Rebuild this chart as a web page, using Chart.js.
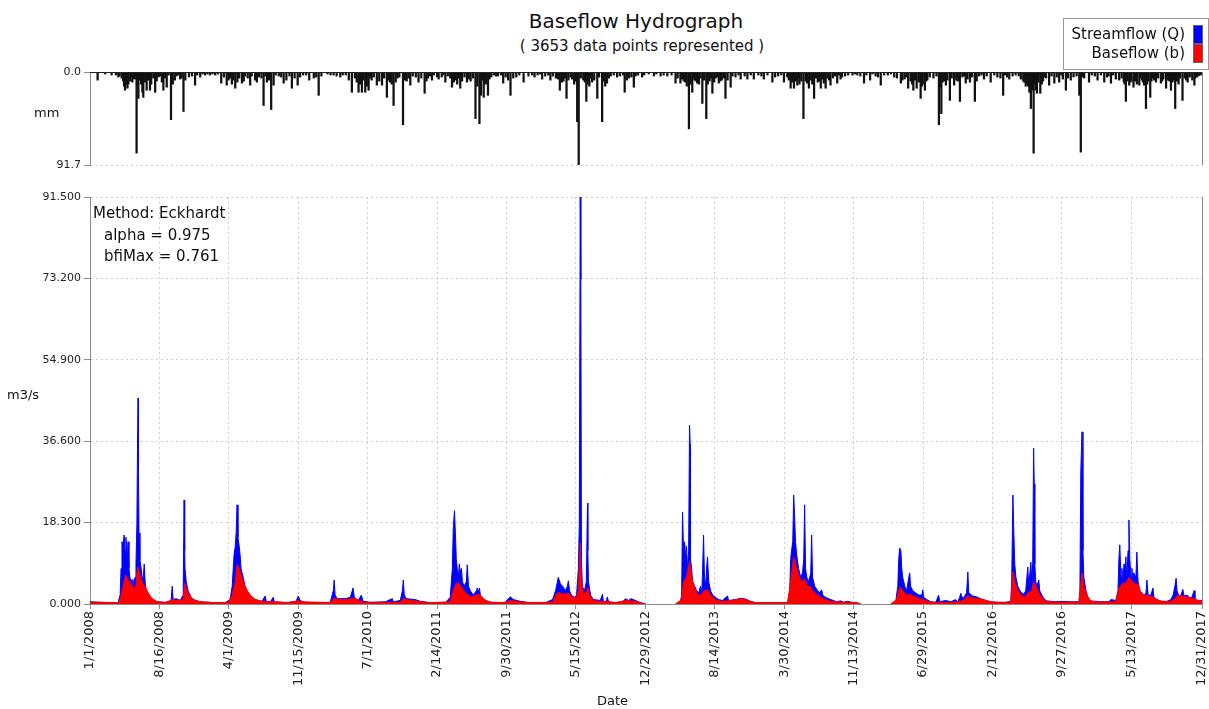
<!DOCTYPE html>
<html>
<head>
<meta charset="utf-8">
<title>Baseflow Hydrograph</title>
<script src="https://cdn.jsdelivr.net/npm/chart.js@4.4.1/dist/chart.umd.min.js"></script>
<style>
  body {
    margin: 0;
    width: 1209px;
    height: 709px;
    position: relative;
    overflow: hidden;
    background: #fff;
    color: #111;
    font-family: "DejaVu Sans", sans-serif;
  }
  .txt { position: absolute; white-space: nowrap; line-height: 1; }
  #title { left: 636px; top: 11px; font-size: 20px; transform: translateX(-50%); }
  #subtitle { left: 642px; top: 39px; font-size: 15px; transform: translateX(-50%); }
  #legend-box { position: absolute; left: 1063px; top: 18px; width: 144px; height: 50px; border: 1px solid #999; }
  .leg { right: 24px; font-size: 15px; }
  .swatch { position: absolute; left: 1193px; width: 8px; height: 17px; border: 1px solid #666; }
  .method { font-size: 15px; }
  .axis-title { font-size: 13px; }
  #rain-canvas { position: absolute; left: 0; top: 60px; }
  #flow-canvas { position: absolute; left: 0; top: 180px; }
</style>
</head>
<body>
<canvas id="rain-canvas" width="1209" height="115"></canvas>
<canvas id="flow-canvas" width="1209" height="529"></canvas>

<div class="txt" id="title">Baseflow Hydrograph</div>
<div class="txt" id="subtitle">( 3653 data points represented )</div>

<div id="legend-box"></div>
<div class="txt leg" style="top:27px">Streamflow (Q)</div>
<div class="txt leg" style="top:46px">Baseflow (b)</div>
<div class="swatch" style="top:25px;background:#0000ff"></div>
<div class="swatch" style="top:44px;background:#ff0000"></div>

<div class="txt method" style="left:93px;top:206px">Method: Eckhardt</div>
<div class="txt method" style="left:104px;top:228px">alpha = 0.975</div>
<div class="txt method" style="left:104px;top:249px">bfiMax = 0.761</div>

<div class="txt axis-title" style="left:34px;top:106px">mm</div>
<div class="txt axis-title" style="left:7px;top:388px">m3/s</div>
<div class="txt axis-title" style="left:597px;top:694px">Date</div>

<script>
// day 0 = 1/1/2008, day 3652 = 12/31/2017
const dateTickDays = [0, 228, 456, 684, 912, 1140, 1368, 1596, 1824, 2052, 2280, 2508, 2736, 2964, 3192, 3420, 3652];
const dateTickLabels = [
  "1/1/2008", "8/16/2008", "4/1/2009", "11/15/2009", "7/1/2010", "2/14/2011",
  "9/30/2011", "5/15/2012", "12/29/2012", "8/14/2013", "3/30/2014", "11/13/2014",
  "6/29/2015", "2/12/2016", "9/27/2016", "5/13/2017", "12/31/2017",
];
const flowTicks = [0, 18.3, 36.6, 54.9, 73.2, 91.5];
const rainTicks = [0, 91.7];

// [day, m3/s]
const streamflow = [
  [0,0.5],[33,0.4],[92,0.3],[99,2],[102,8],[105,14],[108,13],[112,15.5],[115,12],[118,15],
  [122,10],[125,14],[128,8],[131,6],[135,5],[138,5.5],[141,4],[145,5],[148,6],[151,9],
  [154,18],[156,35],[158,46.3],[159,30],[161,16],[164,10],[168,8],[171,6],[174,5],[178,9],
  [181,5],[184,3],[191,2.5],[197,1.5],[207,1],[220,0.5],[247,0.4],[266,0.6],[270,4],[273,1],
  [283,1.2],[296,0.8],[306,2],[309,23.4],[311,12],[312,8],[316,5],[322,3],[332,1.5],[345,0.8],
  [362,0.5],[411,0.3],[444,0.3],[460,1],[467,4],[473,11],[477,13],[480,16],[483,22.3],[486,15],
  [490,13],[493,11],[496,8],[503,6],[509,4],[516,3],[526,2],[542,1],[565,0.6],[575,1.8],
  [579,0.6],[592,0.5],[602,1.5],[605,0.5],[641,0.3],[677,0.6],[684,1.8],[690,0.8],[707,0.3],[789,0.4],
  [799,3],[802,5.4],[805,2],[812,1.2],[838,1.2],[855,1.5],[864,3.6],[868,1.5],[881,0.8],[891,2],
  [897,0.6],[920,0.4],[970,0.5],[993,1.2],[996,0.5],[1019,0.8],[1026,3],[1029,5.4],[1032,2],[1039,1.2],
  [1068,1],[1085,0.6],[1118,0.3],[1167,0.3],[1183,1.5],[1190,8],[1193,17],[1197,21],[1200,16],[1203,10],
  [1206,8],[1210,6],[1213,9],[1216,7],[1220,8],[1223,5],[1229,4],[1236,5],[1239,8.8],[1243,4],
  [1249,3],[1259,2],[1269,3],[1272,3.6],[1275,2.5],[1279,3.6],[1282,2],[1292,1.2],[1305,0.5],[1331,0.3],
  [1364,0.4],[1374,1.2],[1381,1.6],[1390,1],[1413,0.6],[1446,0.3],[1496,0.3],[1519,1],[1529,3],[1538,6],
  [1545,4.5],[1552,4],[1561,3],[1568,4],[1571,5.2],[1575,3],[1581,2],[1591,1.5],[1598,2],[1604,8],
  [1607,18],[1610,91.5],[1612,73],[1614,10],[1617,4],[1624,3],[1630,5],[1634,22.7],[1635,12],[1637,5],
  [1644,2],[1653,1],[1676,0.8],[1683,2.2],[1686,0.6],[1696,0.6],[1699,1.6],[1703,0.5],[1726,0.3],[1749,0.5],
  [1759,1.2],[1768,0.8],[1778,1.2],[1791,0.8],[1808,0.3],[1824,0],[1923,0],[1939,0.5],[1943,2],[1946,20.7],
  [1949,13],[1953,14],[1956,10],[1959,13],[1962,8],[1966,12],[1969,40.2],[1971,36],[1972,10],[1976,8],
  [1979,5],[1986,4],[1992,3],[1999,2.5],[2005,4],[2009,2],[2012,8],[2015,15.5],[2018,6],[2022,4],
  [2025,8],[2028,10.6],[2032,5],[2038,3],[2045,2],[2054,1.5],[2064,1],[2077,0.8],[2094,1.8],[2097,0.8],
  [2120,1],[2137,1.3],[2153,1.1],[2169,0.6],[2186,0.3],[2291,0.3],[2298,3],[2301,10],[2304,12],[2308,14],
  [2311,24.5],[2314,20],[2317,14],[2321,11],[2327,8],[2334,6],[2340,7],[2344,10],[2347,22.3],[2350,8],
  [2354,6],[2360,5],[2367,7],[2370,15.5],[2373,6],[2380,4],[2390,3],[2396,2.5],[2403,3.2],[2406,2],
  [2416,1.5],[2432,1],[2442,0.8],[2452,0.5],[2465,0.7],[2475,0.4],[2488,0.6],[2501,0.4],[2518,0.3],[2531,0],
  [2630,0],[2646,0.5],[2653,4],[2656,10],[2659,12.6],[2663,12],[2666,8],[2669,6],[2676,4],[2682,3],
  [2689,6],[2692,7],[2695,4],[2702,3],[2712,2.5],[2722,2],[2732,2],[2735,3.2],[2738,1.5],[2748,1],
  [2761,0.5],[2778,0.4],[2787,2],[2791,0.5],[2810,0.8],[2827,0.5],[2843,1],[2850,0.5],[2856,1.5],[2860,2.4],
  [2863,1.5],[2870,1.5],[2879,2.5],[2883,7.2],[2886,2.5],[2899,1.8],[2912,1.6],[2925,1.2],[2942,0.8],[2958,0.5],
  [2975,0.4],[3008,0.4],[3024,0.6],[3027,5],[3031,24.5],[3034,16],[3037,9],[3041,6],[3047,4],[3054,3],
  [3060,2.5],[3067,2.2],[3073,3],[3080,8.3],[3083,4],[3090,9.4],[3093,5],[3096,9],[3099,35],[3101,27],
  [3103,9],[3106,5],[3110,4],[3116,5.4],[3119,3],[3126,2],[3133,1.2],[3142,0.7],[3172,0.5],[3188,0.6],
  [3221,0.5],[3248,0.5],[3251,3],[3254,30],[3258,38.7],[3261,12],[3264,6],[3271,3],[3277,1.5],[3287,0.7],
  [3320,0.5],[3346,0.5],[3353,1],[3369,0.8],[3376,3],[3379,10],[3382,13.3],[3386,6],[3389,8],[3392,5],
  [3396,9],[3399,6],[3402,10.6],[3405,5],[3409,12],[3412,18.9],[3415,10],[3419,6],[3422,8],[3425,5],
  [3428,7],[3435,6],[3438,11.7],[3442,5],[3448,3],[3455,2.5],[3461,2],[3468,2.5],[3471,5.4],[3475,2],
  [3484,2],[3491,3.6],[3494,1.5],[3504,1],[3517,0.6],[3534,0.5],[3550,1],[3557,2],[3563,4],[3567,5.8],
  [3570,3],[3576,1.8],[3583,2],[3589,3.3],[3593,1.8],[3603,2],[3609,1.5],[3619,1.5],[3626,3],[3629,1],
  [3639,0.8],[3652,0.8],
];

// [day, m3/s]
const baseflow = [
  [0,0.4],[92,0.3],[99,1],[112,5],[118,6.5],[125,5.5],[135,4.5],[145,3.5],[151,4],[154,7],
  [158,8.3],[164,6.5],[174,4.5],[181,4],[191,2.5],[204,1.2],[220,0.5],[247,0.3],[270,1],[283,0.8],
  [306,1],[311,4.7],[316,3.5],[326,2],[339,1],[362,0.5],[411,0.3],[453,0.3],[467,2],[477,5],
  [483,8.8],[490,8],[496,6.5],[506,4.5],[516,3],[526,2],[542,1],[565,0.6],[579,0.5],[608,0.5],
  [658,0.3],[684,0.8],[697,0.5],[789,0.3],[802,1.3],[815,1],[838,1],[861,1.2],[871,1.3],[881,0.8],
  [897,0.4],[920,0.3],[1019,0.4],[1029,1.2],[1039,1],[1059,0.8],[1085,0.5],[1118,0.3],[1183,0.5],[1193,3],
  [1203,4.7],[1213,4.5],[1223,3.5],[1233,2.5],[1243,2],[1252,1.5],[1262,1.8],[1272,2.2],[1282,2],[1295,1],
  [1315,0.4],[1364,0.3],[1381,0.8],[1397,0.6],[1430,0.3],[1519,0.4],[1529,2],[1538,2.6],[1552,2.3],[1561,2.2],
  [1571,2.5],[1584,1.5],[1598,1.5],[1604,3],[1607,8],[1610,13.7],[1614,5],[1620,2.5],[1630,2.5],[1634,3.8],
  [1640,2],[1653,0.8],[1676,0.5],[1693,0.6],[1726,0.3],[1759,0.8],[1781,0.7],[1808,0.3],[1824,0],[1923,0],
  [1943,1],[1949,5],[1959,6],[1969,9.5],[1976,6],[1986,3.5],[1996,2.2],[2005,2],[2018,3],[2028,3.2],
  [2038,2],[2054,1],[2071,0.6],[2114,0.8],[2130,1.1],[2143,1.2],[2160,0.8],[2176,0.4],[2192,0.3],[2291,0.3],
  [2301,5],[2311,10.6],[2317,9],[2327,6.5],[2337,5],[2347,5.5],[2357,4],[2367,3.8],[2373,3],[2386,2.2],
  [2399,1.5],[2416,1],[2432,0.6],[2465,0.4],[2518,0.3],[2531,0],[2630,0],[2649,1],[2659,3.8],[2669,3],
  [2682,2],[2692,2.2],[2705,1.8],[2722,1.2],[2735,1],[2755,0.5],[2778,0.3],[2827,0.3],[2860,0.6],[2876,1.2],
  [2883,2],[2889,1.4],[2909,1.3],[2932,1],[2958,0.5],[2991,0.3],[3024,0.4],[3031,7.2],[3037,5],[3047,3],
  [3057,2],[3070,1.5],[3080,2.5],[3093,3],[3099,5],[3106,4],[3116,2.5],[3126,1.5],[3139,0.6],[3172,0.4],
  [3248,0.4],[3258,7],[3264,4],[3274,2],[3287,0.6],[3320,0.4],[3369,0.5],[3379,3.5],[3389,4.5],[3402,4.7],
  [3412,6],[3422,5],[3432,4.5],[3442,4.5],[3451,2.5],[3465,2],[3478,1.8],[3491,1.6],[3504,0.9],[3524,0.6],
  [3550,0.6],[3563,1.2],[3573,2],[3586,1.8],[3603,1.5],[3622,1.3],[3639,0.8],[3652,0.6],
];

// [day, mm]
const rainfall = [
  [25,8],[50,2],[71,3],[85,3],[93,5],[97,4],[104,6],[109,9],[112,14],[115,18],
  [120,12],[123,16],[126,12],[132,9],[136,5],[139,10],[142,7],[145,4],[148,7],[153,80],
  [156,12],[159,26],[162,8],[165,6],[168,12],[172,20],[175,25],[180,10],[186,18],[190,8],
  [197,18],[201,12],[208,6],[214,20],[219,9],[225,5],[230,4],[236,10],[241,18],[246,6],
  [252,15],[258,3],[266,47],[272,12],[279,8],[284,4],[290,3],[296,7],[301,6],[307,39],
  [313,8],[325,5],[335,4],[345,13],[352,3],[362,5],[370,2],[378,3],[386,2],[394,3],
  [402,2],[411,3],[420,2],[431,11],[440,5],[449,13],[455,8],[460,6],[466,12],[470,8],
  [477,16],[484,10],[490,6],[499,11],[505,9],[510,4],[518,6],[526,13],[531,4],[542,8],
  [548,10],[555,5],[563,6],[570,33],[576,4],[581,10],[588,8],[595,37],[603,13],[610,3],
  [620,4],[628,5],[636,11],[645,8],[655,4],[663,16],[672,6],[682,13],[690,5],[700,3],
  [710,3],[720,8],[735,6],[743,5],[751,23],[760,4],[780,2],[790,3],[800,3],[810,4],
  [822,5],[830,3],[840,3],[850,8],[860,20],[870,6],[876,10],[882,20],[887,12],[893,20],
  [898,8],[904,20],[909,14],[915,18],[920,6],[925,8],[932,5],[942,13],[950,9],[959,13],
  [966,6],[975,25],[980,8],[985,10],[991,12],[997,33],[1004,10],[1010,6],[1016,5],[1028,52],
  [1034,8],[1040,9],[1046,6],[1052,13],[1060,4],[1070,5],[1079,10],[1088,6],[1099,21],[1105,9],
  [1110,6],[1116,4],[1123,8],[1130,3],[1140,5],[1145,7],[1155,5],[1160,3],[1167,10],[1175,4],
  [1183,6],[1189,15],[1195,10],[1200,8],[1206,12],[1211,6],[1216,16],[1222,9],[1230,5],[1238,10],
  [1244,7],[1250,9],[1258,6],[1266,46],[1272,14],[1279,51],[1284,23],[1289,8],[1293,25],[1296,11],
  [1300,12],[1307,23],[1312,7],[1318,5],[1326,3],[1333,4],[1340,4],[1350,3],[1357,11],[1365,5],
  [1373,8],[1381,23],[1390,6],[1400,5],[1410,3],[1424,10],[1440,4],[1452,3],[1460,5],[1470,3],
  [1478,2],[1485,7],[1495,4],[1505,3],[1512,8],[1520,4],[1530,6],[1537,7],[1543,18],[1550,10],
  [1555,9],[1560,6],[1565,26],[1571,8],[1578,5],[1583,7],[1590,12],[1595,9],[1600,49],[1605,91.7],
  [1612,6],[1620,8],[1625,10],[1630,29],[1636,12],[1640,14],[1645,6],[1649,10],[1656,8],[1666,26],
  [1672,5],[1682,49],[1688,9],[1692,14],[1698,11],[1704,6],[1710,4],[1720,3],[1731,5],[1740,4],
  [1750,3],[1756,20],[1763,8],[1770,6],[1778,5],[1786,15],[1792,4],[1800,3],[1813,5],[1820,3],
  [1835,2],[1852,4],[1860,2],[1874,4],[1884,3],[1896,4],[1910,3],[1923,11],[1930,6],[1939,11],
  [1944,7],[1950,9],[1955,10],[1960,14],[1967,56],[1972,12],[1978,20],[1982,6],[1985,8],[1990,9],
  [1994,11],[2000,12],[2004,6],[2011,31],[2017,8],[2024,46],[2029,12],[2035,9],[2040,6],[2044,21],
  [2050,10],[2055,6],[2060,5],[2065,11],[2070,9],[2075,8],[2082,6],[2087,26],[2094,8],[2104,15],
  [2110,4],[2120,5],[2130,3],[2137,7],[2150,4],[2159,7],[2170,3],[2180,7],[2195,3],[2205,4],
  [2213,7],[2225,3],[2241,10],[2250,5],[2260,4],[2270,3],[2279,10],[2290,5],[2295,8],[2301,16],
  [2306,10],[2312,16],[2318,9],[2323,13],[2326,6],[2330,12],[2336,9],[2343,46],[2350,9],[2355,11],
  [2361,16],[2367,8],[2372,12],[2378,26],[2384,6],[2390,10],[2395,9],[2400,16],[2405,7],[2410,11],
  [2416,16],[2422,6],[2427,8],[2432,13],[2440,6],[2447,4],[2454,11],[2460,3],[2465,7],[2470,5],
  [2480,4],[2490,3],[2504,3],[2512,2],[2520,3],[2530,4],[2542,11],[2550,3],[2562,8],[2570,2],
  [2580,4],[2588,5],[2597,13],[2608,3],[2620,3],[2630,2],[2641,5],[2650,6],[2663,11],[2668,8],
  [2675,7],[2680,5],[2687,16],[2695,9],[2700,12],[2704,18],[2710,8],[2715,16],[2722,10],[2728,26],
  [2732,14],[2735,12],[2742,18],[2746,9],[2750,8],[2758,5],[2770,6],[2780,4],[2788,52],[2792,15],
  [2796,41],[2800,10],[2805,9],[2811,13],[2816,8],[2824,28],[2830,6],[2838,13],[2845,8],[2850,9],
  [2857,29],[2865,5],[2870,4],[2876,11],[2882,7],[2890,10],[2897,5],[2906,29],[2912,9],[2920,4],
  [2928,3],[2936,7],[2945,4],[2958,10],[2970,3],[2980,5],[2990,6],[2999,23],[3005,3],[3012,5],
  [3019,7],[3030,4],[3040,3],[3050,4],[3057,7],[3065,9],[3068,10],[3073,14],[3077,12],[3081,14],
  [3085,20],[3088,16],[3090,36],[3095,18],[3099,80],[3103,12],[3106,18],[3110,21],[3115,10],[3121,21],
  [3126,12],[3130,9],[3135,5],[3140,6],[3150,13],[3158,4],[3167,11],[3175,5],[3183,10],[3190,3],
  [3195,7],[3205,18],[3212,6],[3221,8],[3230,5],[3240,4],[3249,23],[3254,79],[3260,5],[3265,6],
  [3281,10],[3290,3],[3300,4],[3309,8],[3320,3],[3331,10],[3340,5],[3345,4],[3353,11],[3360,3],
  [3369,7],[3380,8],[3388,6],[3395,10],[3398,12],[3402,29],[3407,9],[3413,13],[3417,10],[3420,9],
  [3427,15],[3432,9],[3438,12],[3446,13],[3450,6],[3455,8],[3458,10],[3462,13],[3468,36],[3472,12],
  [3475,9],[3482,25],[3486,9],[3490,6],[3495,8],[3501,10],[3508,6],[3517,11],[3521,9],[3525,7],
  [3534,16],[3540,8],[3545,9],[3550,18],[3555,10],[3560,8],[3564,36],[3570,9],[3575,12],[3580,6],
  [3588,28],[3595,6],[3600,8],[3605,10],[3612,5],[3620,8],[3627,13],[3630,6],[3635,5],[3640,4],
  [3643,3],[3648,3],
];

Chart.defaults.font.family = '"DejaVu Sans", sans-serif';
Chart.defaults.color = "#222";
Chart.defaults.animation = false;

const GRID = "#cfcfcf";
const AXIS = "#8a8a8a";

const toPoints = (pairs) => pairs.map(([x, y]) => ({ x, y }));

// keep label overflow from shrinking the plot area
const noOverflow = (s) => {
  s.paddingLeft = 0;
  s.paddingRight = 0;
  s.paddingTop = 0;
  s.paddingBottom = 0;
};

// solid right edge of each panel, plus the dark zero line of the rain panel
const panelEdges = {
  id: "panelEdges",
  afterDraw(chart, args, opts) {
    const { ctx, chartArea: a } = chart;
    ctx.save();
    ctx.lineWidth = 1;
    ctx.strokeStyle = AXIS;
    ctx.beginPath();
    ctx.moveTo(Math.round(a.right) + 0.5, a.top);
    ctx.lineTo(Math.round(a.right) + 0.5, a.bottom);
    ctx.stroke();
    if (opts.topLine) {
      ctx.strokeStyle = opts.topLine;
      ctx.beginPath();
      ctx.moveTo(a.left, Math.round(a.top) + 0.5);
      ctx.lineTo(a.right, Math.round(a.top) + 0.5);
      ctx.stroke();
    }
    ctx.restore();
  },
};

// no-flow stretches show the plain axis instead of a coloured line
const hideFlat = (c) => (c.p0.parsed.y === 0 && c.p1.parsed.y === 0 ? "rgba(0,0,0,0)" : undefined);

new Chart(document.getElementById("rain-canvas"), {
  type: "bar",
  data: {
    datasets: [
      {
        label: "Precipitation",
        data: toPoints(rainfall),
        backgroundColor: "#111",
        barThickness: 1.6,
      },
    ],
  },
  options: {
    responsive: false,
    layout: { padding: { top: 12, right: 7, bottom: 10, left: 0 } },
    plugins: { legend: { display: false }, tooltip: { enabled: false }, panelEdges: { topLine: "#222" } },
    scales: {
      x: { type: "linear", min: 0, max: 3652, offset: false, display: false },
      y: {
        min: 0,
        max: 91.7,
        reverse: true,
        afterBuildTicks: (s) => { s.ticks = rainTicks.map((value) => ({ value })); },
        afterFit: (s) => { s.width = 90; noOverflow(s); },
        ticks: { font: { size: 11 }, padding: 3, callback: (v) => Number(v).toFixed(1) },
        grid: {
          color: (c) => (c.tick && c.tick.value === 0 ? "rgba(0,0,0,0)" : GRID),
          tickColor: AXIS,
          tickLength: 6,
        },
        border: { color: AXIS, dash: [2, 3] },
      },
    },
  },
  plugins: [panelEdges],
});

new Chart(document.getElementById("flow-canvas"), {
  type: "line",
  data: {
    datasets: [
      {
        label: "Baseflow (b)",
        data: toPoints(baseflow),
        borderColor: "#ff0000",
        backgroundColor: "#ff0000",
        borderWidth: 1,
        borderJoinStyle: "bevel",
        pointRadius: 0,
        fill: "origin",
        order: 1,
        segment: { borderColor: hideFlat },
      },
      {
        label: "Streamflow (Q)",
        data: toPoints(streamflow),
        borderColor: "#0000ff",
        backgroundColor: "#0000ff",
        borderWidth: 1,
        borderJoinStyle: "bevel",
        pointRadius: 0,
        fill: "origin",
        order: 2,
        segment: { borderColor: hideFlat },
      },
    ],
  },
  options: {
    responsive: false,
    layout: { padding: { top: 17, right: 7, bottom: 0, left: 0 } },
    plugins: { legend: { display: false }, tooltip: { enabled: false }, panelEdges: {} },
    scales: {
      x: {
        type: "linear",
        min: 0,
        max: 3652,
        afterBuildTicks: (s) => { s.ticks = dateTickDays.map((value) => ({ value })); },
        afterFit: (s) => { s.height = 105; noOverflow(s); },
        ticks: {
          autoSkip: false,
          minRotation: 90,
          maxRotation: 90,
          padding: 2,
          font: { size: 13 },
          callback: (v, i) => dateTickLabels[i],
        },
        grid: { color: GRID, tickColor: AXIS, tickLength: 5 },
        border: { color: AXIS, dash: [2, 3] },
      },
      y: {
        min: 0,
        max: 91.5,
        afterBuildTicks: (s) => { s.ticks = flowTicks.map((value) => ({ value })); },
        afterFit: (s) => { s.width = 90; noOverflow(s); },
        ticks: { font: { size: 11 }, padding: 3, callback: (v) => Number(v).toFixed(3) },
        grid: { color: GRID, tickColor: AXIS, tickLength: 6 },
        border: { color: AXIS, dash: [2, 3] },
      },
    },
  },
  plugins: [panelEdges],
});
</script>
</body>
</html>
